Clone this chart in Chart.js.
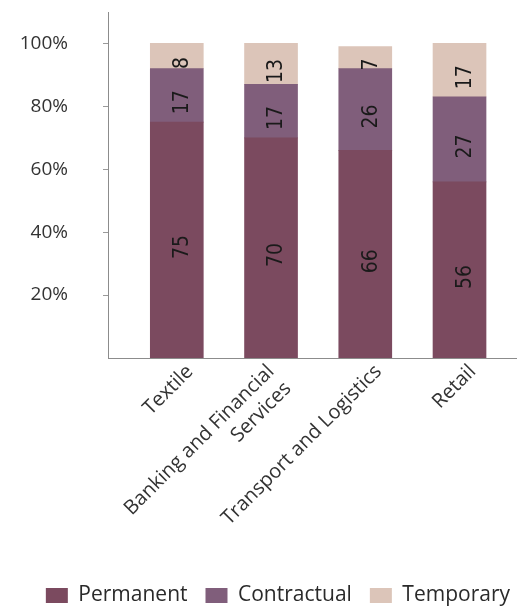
<!DOCTYPE html>
<html>
<head>
<meta charset="utf-8">
<script src="https://cdn.jsdelivr.net/npm/chart.js@4.4.1/dist/chart.umd.min.js"></script>
<style>
  body { margin: 0; background: #fff; }
  #wrap { width: 517px; height: 608px; }
</style>
</head>
<body>
<div id="wrap"><canvas id="myChart"></canvas></div>
<script>
// dati del grafico
const categories = [['Textile'], ['Banking and Financial', 'Services'], ['Transport and Logistics'], ['Retail']];
const permanent = [75, 70, 66, 56];
const contractual = [17, 17, 26, 27];
const temporary = [8, 13, 7, 17];
const yTicks = [20, 40, 60, 80, 100];

const toPoints = arr => arr.map((v, i) => ({ x: i, y: v }));

// etichette ruotate dentro ogni segmento
const segmentLabels = {
  id: 'segmentLabels',
  afterDatasetsDraw(chart) {
    const ctx = chart.ctx;
    ctx.save();
    ctx.font = '21px "Liberation Sans Narrow", "DejaVu Sans Condensed", sans-serif';
    ctx.fillStyle = '#1a1a1a';
    ctx.textAlign = 'center';
    ctx.textBaseline = 'middle';
    chart.data.datasets.forEach((ds, i) => {
      chart.getDatasetMeta(i).data.forEach((bar, j) => {
        ctx.save();
        ctx.translate(bar.x + 6, (bar.y + bar.base) / 2 + 7);
        ctx.rotate(-Math.PI / 2);
        ctx.fillText(ds.data[j].y, 0, 0);
        ctx.restore();
      });
    });
    ctx.restore();
  }
};

const ctx = document.getElementById('myChart').getContext('2d');
const chart = new Chart(ctx, {
  type: 'bar',
  data: {
    datasets: [
      { label: 'Permanent', data: toPoints(permanent), backgroundColor: '#7b4a5f' },
      { label: 'Contractual', data: toPoints(contractual), backgroundColor: '#805e7b' },
      { label: 'Temporary', data: toPoints(temporary), backgroundColor: '#dcc5b9' }
    ]
  },
  options: {
    responsive: true,
    maintainAspectRatio: false,
    animation: false,
    barThickness: 53,
    layout: { padding: { left: 0, right: -11, top: 12, bottom: -8 } },
    scales: {
      x: {
        type: 'linear',
        stacked: true,
        offset: false,
        min: -0.73,
        max: 3.61,
        // le etichette su una riga sono centrate come blocco
        afterBuildTicks: scale => {
          scale.ticks = categories.map((c, i) => ({ value: c.length === 1 ? i + 0.14 : i }));
        },
        afterFit: scale => { scale.height = 209; },
        grid: { display: false, drawTicks: false },
        border: { color: '#8c8c8c' },
        ticks: {
          maxRotation: 45,
          minRotation: 45,
          padding: 2,
          color: '#333',
          font: { family: 'Open Sans', size: 20 },
          callback: (v, i) => categories[i]
        }
      },
      y: {
        stacked: true,
        min: 0,
        max: 110,
        afterBuildTicks: scale => { scale.ticks = yTicks.map(v => ({ value: v })); },
        afterFit: scale => {
          scale.width = 108;
          scale.paddingTop = 0;
          scale.paddingBottom = 0;
        },
        grid: { drawOnChartArea: false, tickLength: 5, color: '#9a9a9a' },
        border: { color: '#8c8c8c' },
        ticks: {
          padding: 35,
          color: '#333',
          font: { family: 'Open Sans', size: 19 },
          callback: v => v + '%'
        }
      }
    },
    plugins: {
      legend: {
        position: 'bottom',
        align: 'end',
        labels: {
          boxWidth: 22,
          boxHeight: 15,
          padding: 18,
          color: '#2a2a2a',
          font: { family: 'Open Sans', size: 21 }
        }
      },
      tooltip: { enabled: false }
    }
  },
  plugins: [segmentLabels]
});
</script>
</body>
</html>
